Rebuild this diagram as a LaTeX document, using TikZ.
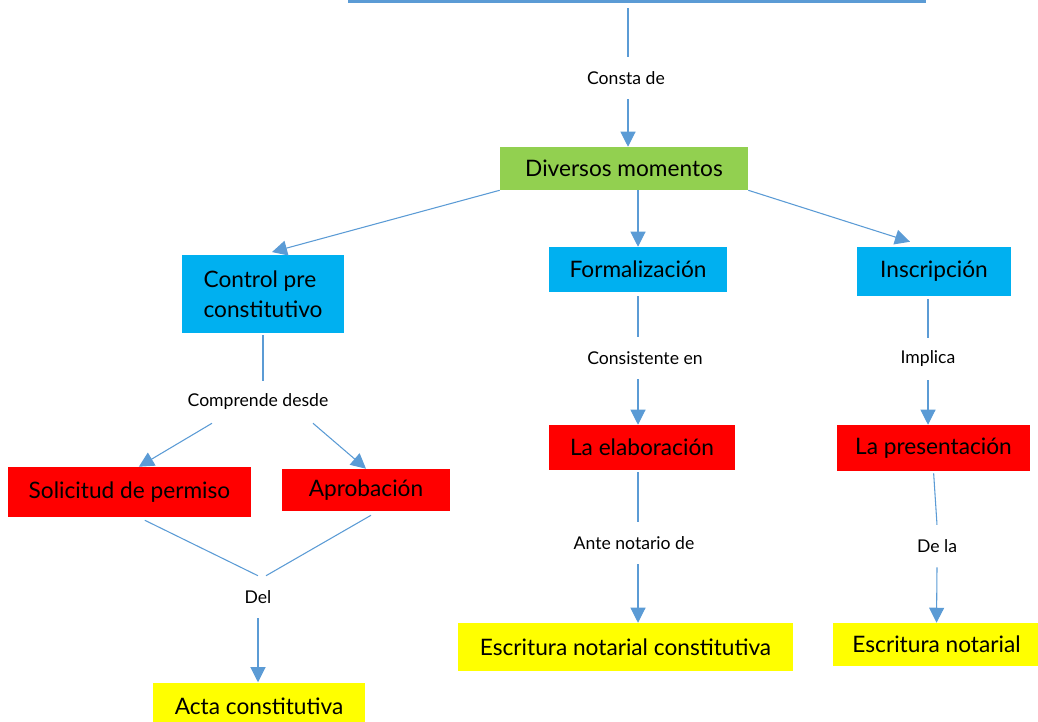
\documentclass[tikz,border=0pt]{standalone}
\usepackage{fontspec}
\setmainfont{Lato}
\usetikzlibrary{arrows.meta,calc}
\definecolor{azul}{RGB}{91,155,213}
\definecolor{verde}{RGB}{146,208,80}
\definecolor{celeste}{RGB}{0,176,240}
\definecolor{rojo}{RGB}{255,0,0}
\definecolor{amarillo}{RGB}{255,255,0}
\tikzset{
  caja/.style={rectangle,inner sep=0pt,font=\fontsize{17}{22.5}\selectfont},
  etiqueta/.style={inner sep=0pt,minimum height=31.5pt,font=\fontsize{13.2}{16}\selectfont},
  linea/.style={draw=azul,line width=0.8pt},
  flecha/.style={linea,-{Triangle[width=11.25pt,length=11.25pt]}}
}
\begin{document}
\begin{tikzpicture}[x=0.75pt,y=-0.75pt]
	\useasboundingbox (0,0) rectangle (1038,721);
	\clip (0,0) rectangle (1038,721);

	\node[caja,fill=azul,minimum width=433.5pt,minimum height=32.25pt] (titulo) at (637,-18.5) {};
	\node[etiqueta] (consta) at (626,78) {Consta de};
	\node[caja,fill=verde,minimum width=186pt,minimum height=32.25pt] (diversos) at (624,168.5) {Diversos momentos};

	\node[caja,fill=celeste,align=left,minimum width=121.5pt,minimum height=58.5pt] (control) at (263,294) {Control pre\\constitutivo};
	\node[caja,fill=celeste,minimum width=133.5pt,minimum height=33.75pt] (formalizacion) at (638,269.5) {Formalización};
	\node[caja,fill=celeste,minimum width=115.5pt,minimum height=36.75pt] (inscripcion) at (934,271.5) {Inscripción};

	\node[etiqueta] (comprende) at (258,402) {Comprende desde};
	\node[caja,fill=rojo,minimum width=182.25pt,minimum height=37.5pt] (solicitud) at (129.5,492) {Solicitud de permiso};
	\node[caja,fill=rojo,minimum width=126pt,minimum height=31.5pt] (aprobacion) at (366,490) {Aprobación};
	\node[etiqueta] (del) at (258,597) {Del};
	\node[caja,fill=amarillo,minimum width=159pt,minimum height=35.25pt] (acta) at (259,706) {Acta constitutiva};

	\node[etiqueta] (consistente) at (645,358) {Consistente en};
	\node[caja,fill=rojo,minimum width=139.5pt,minimum height=33.75pt] (elaboracion) at (642,447.5) {La elaboración};
	\node[etiqueta] (ante) at (634,543) {Ante notario de};
	\node[caja,fill=amarillo,minimum width=251.25pt,minimum height=36pt] (escconst) at (625.5,647) {Escritura notarial constitutiva};

	\node[etiqueta] (implica) at (928,359) {Implica};
	\node[caja,fill=rojo,minimum width=144.75pt,minimum height=34.5pt] (presentacion) at (933.5,448) {La presentación};
	\node[etiqueta] (dela) at (937,546) {De la};
	\node[caja,fill=amarillo,minimum width=155.25pt,minimum height=32.25pt] (escnot) at (936.5,644.5) {Escritura notarial};

	\draw[linea,shorten <=3.75pt] ([xshift=1.5pt]titulo.south -| consta.north) -- ([xshift=1.5pt]consta.north);
	\draw[flecha] ([xshift=1.5pt]consta.south) -- ([xshift=1.5pt]consta.south |- diversos.north);

	\draw[flecha] (diversos.south west) -- ([xshift=6.75pt,yshift=2pt]control.north);
	\draw[flecha] (diversos.south -| formalizacion.north) -- (formalizacion.north);
	\draw[flecha] (diversos.south east) -- ([xshift=-18pt,yshift=3.75pt]inscripcion.north);

	\draw[linea,shorten <=1.5pt] (control.south) -- (control.south |- comprende.north);
	\draw[flecha] ([xshift=-34.5pt]comprende.south) -- ([xshift=7pt]solicitud.north);
	\draw[flecha] ([xshift=41.25pt]comprende.south) -- (aprobacion.north);
	\draw[linea] ([xshift=11.5pt,yshift=-2.25pt]solicitud.south) -- (del.north);
	\draw[linea] ([xshift=3.75pt,yshift=-3pt]aprobacion.south) -- ([xshift=6pt]del.north);
	\draw[flecha] (del.south) -- (del.south |- acta.north);

	\draw[linea,shorten <=3pt] (formalizacion.south) -- (formalizacion.south |- consistente.north);
	\draw[flecha] (consistente.south -| formalizacion.south) -- (elaboracion.north -| formalizacion.south);
	\draw[linea,shorten <=1.5pt] (elaboracion.south -| formalizacion.south) -- (ante.north -| formalizacion.south);
	\draw[flecha] (ante.south -| formalizacion.south) -- (escconst.north -| formalizacion.south);

	\draw[linea,shorten <=2.25pt] (implica.north |- inscripcion.south) -- (implica.north);
	\draw[flecha] (implica.south) -- (implica.south |- presentacion.north);
	\draw[linea,shorten <=1.5pt] (presentacion.south) -- (dela.north);
	\draw[flecha] (dela.south) -- (escnot.north);
\end{tikzpicture}
\end{document}
